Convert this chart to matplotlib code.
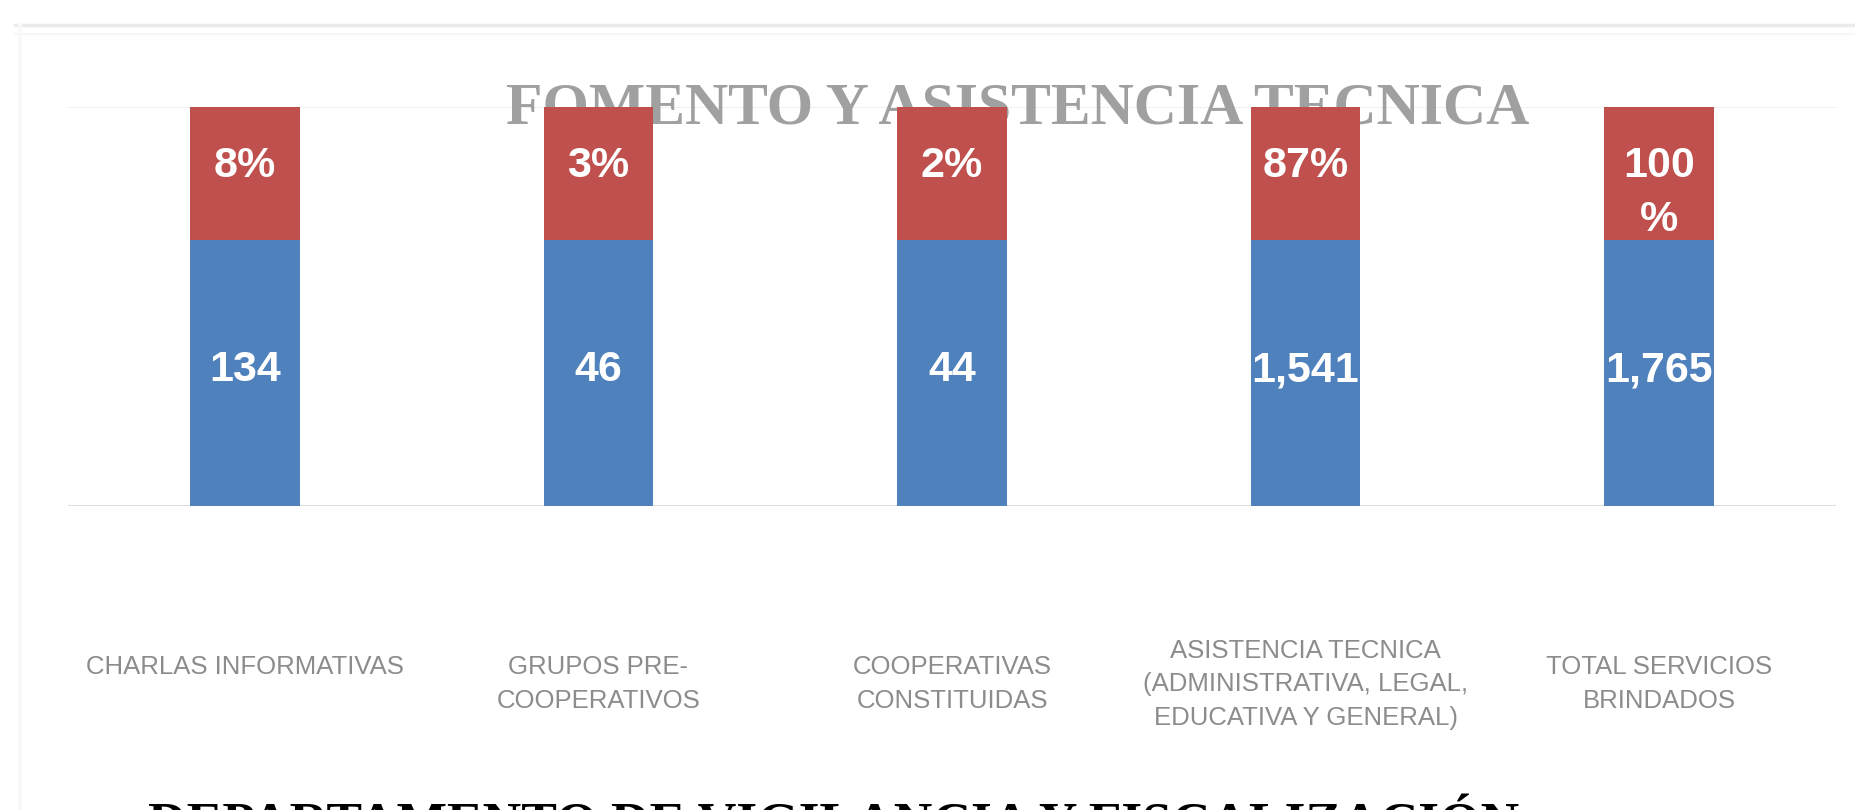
import matplotlib
matplotlib.use("Agg")
import matplotlib.pyplot as plt
import matplotlib.transforms as mtransforms

categorias = [
    "CHARLAS INFORMATIVAS\n ",
    "GRUPOS PRE-\nCOOPERATIVOS",
    "COOPERATIVAS\nCONSTITUIDAS",
    "ASISTENCIA TECNICA\n(ADMINISTRATIVA, LEGAL,\nEDUCATIVA Y GENERAL)",
    "TOTAL SERVICIOS\nBRINDADOS",
]
servicios = [134, 46, 44, 1541, 1765]
porcentajes = ["8%", "3%", "2%", "87%", "100\n%"]
# the bars in the picture all have the same height: blue 2/3, red 1/3
seg_azul = [2, 2, 2, 2, 2]
seg_rojo = [1, 1, 1, 1, 1]

AZUL = "#4f81bd"
ROJO = "#c0504d"

W, H = 1855, 810
fig = plt.figure(figsize=(W / 100, H / 100), dpi=100)
fig.patch.set_facecolor("white")

# faint frame of the pasted chart
fig.add_artist(plt.Line2D([15 / W, 1], [1 - 25 / H, 1 - 25 / H], color="#ebebeb", lw=2.5))
fig.add_artist(plt.Line2D([15 / W, 1], [1 - 34 / H, 1 - 34 / H], color="#f6f6f6", lw=1.5))
fig.add_artist(plt.Line2D([20 / W, 20 / W], [0, 1 - 25 / H], color="#f8f8f8", lw=3))

ax = fig.add_axes([68 / W, (H - 506) / H, (1836 - 68) / W, (506 - 107) / H])
ax.set_xlim(-0.5, 4.5)
ax.set_ylim(0, 3)
ax.axis("off")
ax.axhline(0, color="#dcdcdc", lw=1.5, zorder=1)
ax.axhline(3, color="#f0f0f0", lw=1.5, zorder=1)

x = list(range(len(categorias)))
ax.bar(x, seg_azul, width=0.31, color=AZUL, zorder=3)
ax.bar(x, seg_rojo, bottom=seg_azul, width=0.31, color=ROJO, zorder=3)

for i in x:
    ax.text(i, seg_azul[i] / 2 + 0.02, f"{servicios[i]:,}", ha="center", va="center",
            color="white", fontsize=31, fontweight="bold", family="Liberation Sans", zorder=4)
    ax.text(i, seg_azul[i] + seg_rojo[i] - 0.29, porcentajes[i], ha="center", va="top",
            color="white", fontsize=31, fontweight="bold", family="Liberation Sans",
            linespacing=1.45, zorder=4)

# title sits behind the bars
ax.text(0.537, 1 - (109 - 107) / 399, "FOMENTO Y ASISTENCIA TECNICA", transform=ax.transAxes,
        ha="center", va="center", color="#a0a0a0", fontsize=43, fontweight="bold",
        family="Liberation Serif", zorder=2)

trans = mtransforms.blended_transform_factory(ax.transData, fig.transFigure)
for i, cat in enumerate(categorias):
    fig.text(i, (H - 684) / H, cat, transform=trans, ha="center", va="center",
             color="#8c8c8c", fontsize=18.5, family="Liberation Sans", linespacing=1.5)

fig.text(834 / W, (H - 803) / H, "DEPARTAMENTO DE VIGILANCIA Y FISCALIZACIÓN",
         ha="center", va="top", color="black", fontsize=38.5, fontweight="bold",
         family="Liberation Serif")

fig.savefig("out.png", dpi=100)
